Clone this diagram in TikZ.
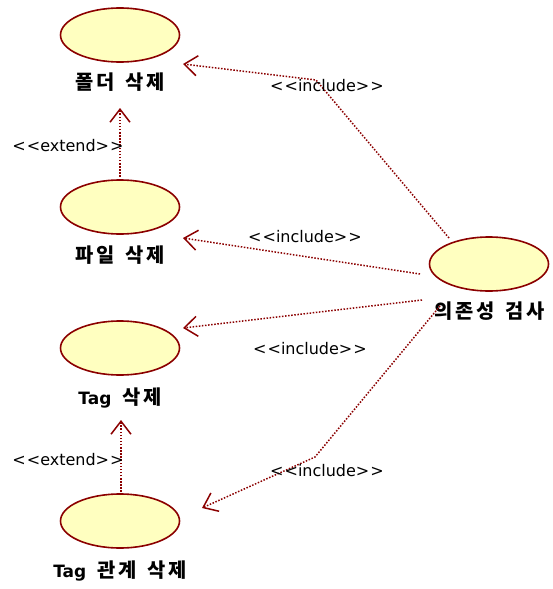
\documentclass[tikz,border=0pt]{standalone}
\usepackage{fontspec}
\setmainfont{DejaVu Sans}
\newfontfamily\krfont{Noto Sans CJK KR}[LetterSpace=14]
\usetikzlibrary{arrows.meta,shapes.geometric}
\definecolor{ucred}{HTML}{8B0000}
\definecolor{ucfill}{HTML}{FFFFC0}
\tikzset{
  usecase/.style={ellipse, draw=ucred, fill=ucfill, line width=1.6pt, minimum width=119pt, minimum height=54pt, inner sep=0pt},
  uclabel/.style={font=\krfont\bfseries\fontsize{19.8}{23}\selectfont, inner sep=0pt},
  stereo/.style={font=\fontsize{16}{19}\selectfont, inner sep=0pt},
  dep/.style={draw=ucred, line width=1.5pt, dash pattern=on 1.5pt off 1.6pt, -{Straight Barb[length=13pt,width=20pt,line width=1.5pt]}}
}
\newcommand{\stlt}{{<}\kern1pt{<}}
\newcommand{\stgt}{{>}\kern1pt{>}}
\newcommand{\wgap}{\hspace{11pt}}
\newcommand{\latin}[1]{{\fontspec{DejaVu Sans}\bfseries\fontsize{17}{20}\selectfont #1}}
\begin{document}
\begin{tikzpicture}[x=1pt,y=-1pt]
\useasboundingbox (0,0) rectangle (552,589);
% use cases
\node[usecase] (folder) at (120,35) {};
\node[usecase] (file) at (120,207) {};
\node[usecase] (tag) at (120,348) {};
\node[usecase] (tagrel) at (120,521) {};
\node[usecase] (dep) at (489,264) {};
% labels
\node[uclabel] (lfolder) at (120,82) {폴더\wgap 삭제};
\node[uclabel] (lfile) at (120,255) {파일\wgap 삭제};
\node[uclabel] (ltag) at (120,398) {\latin{Tag}\wgap 삭제};
\node[uclabel] (ltagrel) at (120,571) {\latin{Tag}\wgap 관계\wgap 삭제};
\node[uclabel] (ldep) at (490,311) {의존성\wgap 검사};
% endpoints
\coordinate (d1) at (449,238);
\coordinate (k1) at (316,80);
\coordinate (t1) at (183,64);
\coordinate (d2) at (420,274);
\coordinate (t2) at (183,238);
\coordinate (d3) at (422,300);
\coordinate (t3) at (183,328);
\coordinate (d4) at (440,306);
\coordinate (k4) at (315,457);
\coordinate (t4) at (202,508);
\coordinate (e1s) at (120,180);
\coordinate (e1t) at (120,108);
\coordinate (e2s) at (121,495);
\coordinate (e2t) at (121,420);
% connectors
\draw[dep] (d1) -- (k1) -- (t1);
\draw[dep] (d2) -- (t2);
\draw[dep] (d3) -- (t3);
\draw[dep] (d4) -- (k4) -- (t4);
\draw[dep] (e1s) -- (e1t);
\draw[dep] (e2s) -- (e2t);
% stereotypes
\node[stereo] (i1) at (327,86) {\stlt include\stgt};
\node[stereo] (i2) at (305,237) {\stlt include\stgt};
\node[stereo] (i3) at (310,349) {\stlt include\stgt};
\node[stereo] (i4) at (327,471) {\stlt include\stgt};
\node[stereo] (x1) at (68,146) {\stlt extend\stgt};
\node[stereo] (x2) at (68,460) {\stlt extend\stgt};
\end{tikzpicture}
\end{document}
